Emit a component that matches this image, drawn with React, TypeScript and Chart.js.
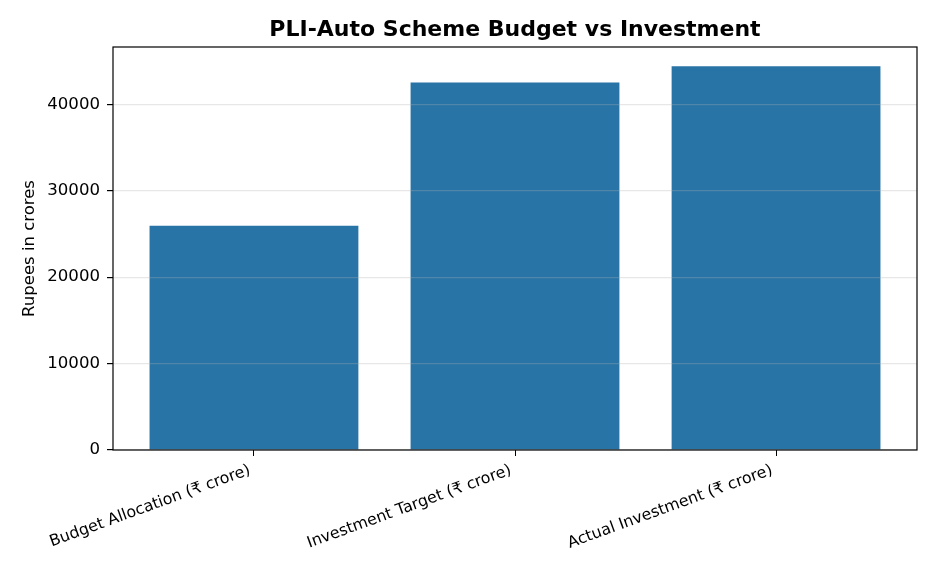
import React, { useEffect, useRef } from "react";
import { Chart, registerables } from "chart.js";

Chart.register(...registerables);

const categories = [
  "Budget Allocation (₹ crore)",
  "Investment Target (₹ crore)",
  "Actual Investment (₹ crore)",
];
const values = [25938, 42500, 44400];
const yTicks = [0, 10000, 20000, 30000, 40000];
const yMax = 46620;
const titleText = "PLI-Auto Scheme Budget vs Investment";

const FONT = "'DejaVu Sans', sans-serif";

const frame = {
  id: "frame",
  afterDraw(chart: any) {
    const { ctx, chartArea } = chart;
    ctx.save();
    ctx.strokeStyle = "#000";
    ctx.lineWidth = 1.2;
    ctx.strokeRect(
      chartArea.left,
      chartArea.top,
      chartArea.right - chartArea.left,
      chartArea.bottom - chartArea.top
    );
    ctx.fillStyle = "#000";
    ctx.font = `bold 22px ${FONT}`;
    ctx.textAlign = "center";
    ctx.textBaseline = "alphabetic";
    ctx.fillText(titleText, (chartArea.left + chartArea.right) / 2, 36);
    ctx.restore();
  },
};

export default function App() {
  const ref = useRef<HTMLCanvasElement | null>(null);

  useEffect(() => {
    if (!ref.current) return;
    Chart.defaults.color = "#000";
    const chart = new Chart(ref.current, {
      type: "bar",
      data: {
        datasets: [
          {
            data: values.map((v, i) => ({ x: i, y: v })),
            backgroundColor: "#2874a6",
            categoryPercentage: 0.8,
            barPercentage: 1.0,
            borderWidth: 0,
          },
        ],
      },
      options: {
        animation: false,
        responsive: false,
        maintainAspectRatio: false,
        layout: { padding: { left: 0, right: 19, top: 47, bottom: 0 } },
        plugins: {
          legend: { display: false },
          tooltip: { enabled: false },
          title: { display: false },
        },
        scales: {
          x: {
            type: "linear",
            offset: false,
            min: -0.54,
            max: 2.54,
            afterBuildTicks: (scale: any) => {
              scale.ticks = categories.map((_, i) => ({ value: i }));
            },
            afterFit: (scale: any) => {
              scale.height = 122;
            },
            ticks: {
              autoSkip: false,
              minRotation: 20,
              maxRotation: 20,
              padding: 5,
              labelOffset: -4,
              color: "#000",
              font: { family: FONT, size: 15.8 },
              callback: (v: any) => categories[Math.round(Number(v))] ?? "",
            },
            grid: {
              offset: false,
              drawOnChartArea: false,
              drawTicks: true,
              tickLength: 6,
              tickColor: "#000",
            },
            border: { display: false },
          },
          y: {
            min: 0,
            max: yMax,
            afterBuildTicks: (scale: any) => {
              scale.ticks = yTicks.map((v) => ({ value: v }));
            },
            afterFit: (scale: any) => {
              scale.width = 113;
            },
            ticks: {
              padding: 7,
              color: "#000",
              font: { family: FONT, size: 16.6 },
              callback: (v: any) => String(v),
            },
            grid: {
              z: 1,
              color: "rgba(176,176,176,0.3)",
              lineWidth: 1.2,
              tickColor: "#000",
              tickLength: 6,
            },
            border: { display: false },
            title: {
              display: true,
              text: "Rupees in crores",
              color: "#000",
              font: { family: FONT, size: 16.5 },
              padding: { top: 20, bottom: 0 },
            },
          },
        },
      },
      plugins: [frame],
    } as any);
    return () => chart.destroy();
  }, []);

  return (
    <div style={{ position: "fixed", left: 0, top: 0, width: 936, height: 572, background: "#fff" }}>
      <canvas ref={ref} width={936} height={572} style={{ width: 936, height: 572 }} />
    </div>
  );
}
